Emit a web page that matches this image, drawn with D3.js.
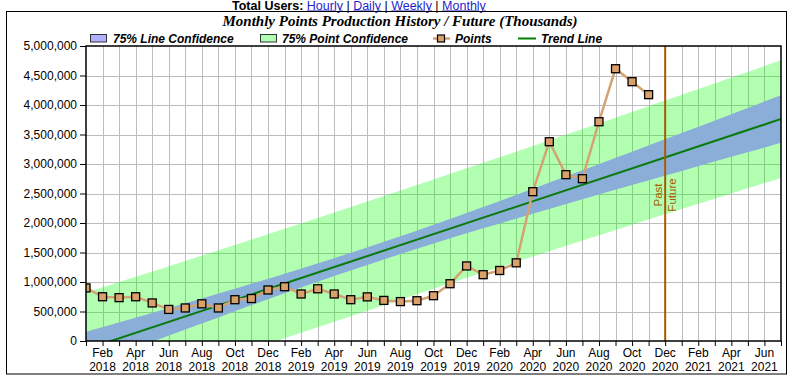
<!DOCTYPE html>
<html><head><meta charset="utf-8">
<script src="https://cdn.jsdelivr.net/npm/d3@7"></script>
<style>
html,body{margin:0;padding:0;background:#fff;}
svg{display:block;}
</style></head>
<body>
<svg id="chart" width="799" height="379"></svg>
<script>
// ---------- DATA ----------
const monthCount = 42; // Jan 2018 (0) .. Jul 2021 (42)
const xTickLabelMonths = [1,3,5,7,9,11,13,15,17,19,21,23,25,27,29,31,33,35,37,39,41];
const xTickLabelNames = ["Feb","Apr","Jun","Aug","Oct","Dec","Feb","Apr","Jun","Aug","Oct","Dec","Feb","Apr","Jun","Aug","Oct","Dec","Feb","Apr","Jun"];
const xTickLabelYears = ["2018","2018","2018","2018","2018","2018","2019","2019","2019","2019","2019","2019","2020","2020","2020","2020","2020","2020","2021","2021","2021"];
const yTicks = [0,500000,1000000,1500000,2000000,2500000,3000000,3500000,4000000,4500000,5000000];

// monthly points, Jan 2018 .. Nov 2020
const pointValues = [
  900000, 750000, 735000, 750000, 645000, 535000, 560000, 630000, 560000, 700000, 720000, 865000,
  920000, 797000, 885000, 797000, 700000, 748000, 688000, 668000, 683000, 768000, 971000, 1272000,
  1124000, 1195000, 1325000, 2531000, 3378000, 2819000, 2751000, 3717000, 4615000, 4395000, 4175000
];

const bandMonths     = [0, 3, 6, 9, 12, 15, 18, 21, 24, 27, 30, 33, 36, 39, 42];
const lineConfLow    = [-435000, -118000, 195000, 506000, 809000, 1102000, 1383000, 1651000, 1909000, 2157000, 2402000, 2644000, 2883000, 3121000, 3359000];
const lineConfHigh   = [155000, 396000, 639000, 887000, 1141000, 1404000, 1681000, 1971000, 2272000, 2579000, 2892000, 3208000, 3525000, 3845000, 4165000];
const pointConfLow   = [-1100000, -810000, -523000, -237000, 47000, 328000, 607000, 884000, 1159000, 1431000, 1702000, 1970000, 2236000, 2501000, 2764000];
const pointConfHigh  = [820000, 1088000, 1357000, 1629000, 1903000, 2179000, 2457000, 2738000, 3021000, 3305000, 3592000, 3882000, 4172000, 4465000, 4760000];

const trendMonths = [0, 42];
const trendValues = [-140000, 3762000];

const futureMonth = 35; // Dec 2020

// ---------- LAYOUT ----------
const svg = d3.select("#chart");
const plot = {left: 86, top: 46, right: 781, bottom: 341};
const x = d3.scaleLinear().domain([0, monthCount]).range([plot.left, plot.right]);
const y = d3.scaleLinear().domain([0, 5000000]).range([plot.bottom, plot.top]);
const FONT = "Arial, 'Liberation Sans', sans-serif";

// header
const header = svg.append("text").attr("x", 232).attr("y", 9.5)
  .attr("font-family", FONT).attr("font-size", 12.5).attr("fill", "#000");
header.append("tspan").attr("font-weight", "bold").text("Total Users: ");
const links = ["Hourly","Daily","Weekly","Monthly"];
links.forEach((l,i) => {
  header.append("tspan").attr("fill", "#1f1fcc").attr("text-decoration", "underline").text(l);
  if (i < links.length-1) header.append("tspan").text(" | ");
});

// outer box
svg.append("rect").attr("x", 6.5).attr("y", 11.5).attr("width", 780).attr("height", 362.5)
  .attr("fill", "none").attr("stroke", "#000").attr("stroke-width", 1);

// title
svg.append("text").attr("x", 400).attr("y", 26).attr("text-anchor", "middle")
  .attr("font-family", "'Liberation Serif', 'Times New Roman', serif")
  .attr("font-size", 15).attr("font-weight", "bold").attr("font-style", "italic")
  .text("Monthly Points Production History / Future (Thousands)");

// legend
const lg = svg.append("g").attr("font-family", FONT).attr("font-size", 12)
  .attr("font-weight", "bold").attr("font-style", "italic");
lg.append("rect").attr("x", 90.5).attr("y", 34.5).attr("width", 16).attr("height", 7.5)
  .attr("fill", "#b0b0ff").attr("stroke", "#333");
lg.append("text").attr("x", 113).attr("y", 43).text("75% Line Confidence");
lg.append("rect").attr("x", 260.5).attr("y", 34.5).attr("width", 16).attr("height", 7.5)
  .attr("fill", "#b0ffb0").attr("stroke", "#333");
lg.append("text").attr("x", 282).attr("y", 43).text("75% Point Confidence");
lg.append("line").attr("x1", 433).attr("x2", 450).attr("y1", 38.5).attr("y2", 38.5)
  .attr("stroke", "#d2a070").attr("stroke-width", 2.5);
lg.append("rect").attr("x", 437.5).attr("y", 35).attr("width", 7).attr("height", 7)
  .attr("fill", "#d9a06a").attr("stroke", "#000").attr("stroke-width", 1.2);
lg.append("text").attr("x", 455).attr("y", 43).text("Points");
lg.append("line").attr("x1", 518).attr("x2", 536).attr("y1", 38.5).attr("y2", 38.5)
  .attr("stroke", "#008000").attr("stroke-width", 2);
lg.append("text").attr("x", 541).attr("y", 43).text("Trend Line");

// clip
svg.append("clipPath").attr("id", "plotclip").append("rect")
  .attr("x", plot.left).attr("y", plot.top)
  .attr("width", plot.right - plot.left).attr("height", plot.bottom - plot.top);

// grid
const grid = svg.append("g").attr("stroke", "#bdbdbd").attr("stroke-width", 1);
d3.range(1, monthCount).forEach(m => {
  grid.append("line").attr("x1", Math.round(x(m))+0.5).attr("x2", Math.round(x(m))+0.5)
    .attr("y1", plot.top).attr("y2", plot.bottom);
});
yTicks.slice(1, -1).forEach(v => {
  grid.append("line").attr("y1", Math.round(y(v))+0.5).attr("y2", Math.round(y(v))+0.5)
    .attr("x1", plot.left).attr("x2", plot.right);
});

const clipped = svg.append("g").attr("clip-path", "url(#plotclip)");

// point confidence band
const bandIdx = d3.range(bandMonths.length);
clipped.append("path")
  .attr("d", d3.area().x(i => x(bandMonths[i])).y0(i => y(pointConfLow[i])).y1(i => y(pointConfHigh[i]))
    .curve(d3.curveMonotoneX)(bandIdx))
  .attr("fill", "rgb(0,255,0)").attr("fill-opacity", 0.3);
// line confidence band
clipped.append("path")
  .attr("d", d3.area().x(i => x(bandMonths[i])).y0(i => y(lineConfLow[i])).y1(i => y(lineConfHigh[i]))
    .curve(d3.curveMonotoneX)(bandIdx))
  .attr("fill", "#8aaed8");

// trend line
clipped.append("path")
  .attr("d", d3.line().x((d,i) => x(trendMonths[i])).y(d => y(d))(trendValues))
  .attr("fill", "none").attr("stroke", "#0a7a0a").attr("stroke-width", 2);

// points
clipped.append("path")
  .attr("d", d3.line().x((d,i) => x(i)).y(d => y(d))(pointValues))
  .attr("fill", "none").attr("stroke", "#d4a373").attr("stroke-width", 2.5);
clipped.selectAll("rect.pt").data(pointValues).enter().append("rect").attr("class", "pt")
  .attr("x", (d,i) => x(i) - 4).attr("y", d => y(d) - 4)
  .attr("width", 8).attr("height", 8)
  .attr("fill", "#d9a06a").attr("stroke", "#000").attr("stroke-width", 1.3);

// future line
svg.append("line").attr("x1", x(futureMonth)).attr("x2", x(futureMonth))
  .attr("y1", plot.top).attr("y2", plot.bottom)
  .attr("stroke", "#a85a00").attr("stroke-width", 2);
const fx = x(futureMonth);
svg.append("text").attr("transform", `translate(${fx-3},195) rotate(-90)`)
  .attr("text-anchor", "middle").attr("font-family", FONT).attr("font-size", 11.5)
  .attr("fill", "#a85a00").text("Past");
svg.append("text").attr("transform", `translate(${fx+11},195) rotate(-90)`)
  .attr("text-anchor", "middle").attr("font-family", FONT).attr("font-size", 11.5)
  .attr("fill", "#a85a00").text("Future");

// frame
svg.append("rect").attr("x", plot.left).attr("y", plot.top)
  .attr("width", plot.right - plot.left).attr("height", plot.bottom - plot.top)
  .attr("fill", "none").attr("stroke", "#000").attr("stroke-width", 1.5);

// y axis
const yAxis = svg.append("g").attr("transform", `translate(${plot.left},0)`)
  .call(d3.axisLeft(y).tickValues(yTicks).tickFormat(d3.format(",")).tickSize(6).tickPadding(3));
yAxis.select(".domain").remove();
yAxis.selectAll("text").attr("font-family", FONT).attr("font-size", 12).attr("fill", "#000");
yAxis.selectAll("line").attr("stroke", "#000");

// x axis
const xAxis = svg.append("g").attr("transform", `translate(0,${plot.bottom})`)
  .call(d3.axisBottom(x).tickValues(d3.range(0, monthCount + 1)).tickFormat("").tickSize(5));
xAxis.select(".domain").remove();
xAxis.selectAll("line").attr("stroke", "#000");
const xl = svg.append("g").attr("font-family", FONT).attr("font-size", 12).attr("fill", "#000")
  .attr("text-anchor", "middle");
xTickLabelMonths.forEach((m,i) => {
  const t = xl.append("text").attr("x", x(m));
  t.append("tspan").attr("x", x(m)).attr("y", 357).text(xTickLabelNames[i]);
  t.append("tspan").attr("x", x(m)).attr("y", 371).text(xTickLabelYears[i]);
});
</script>
</body></html>
